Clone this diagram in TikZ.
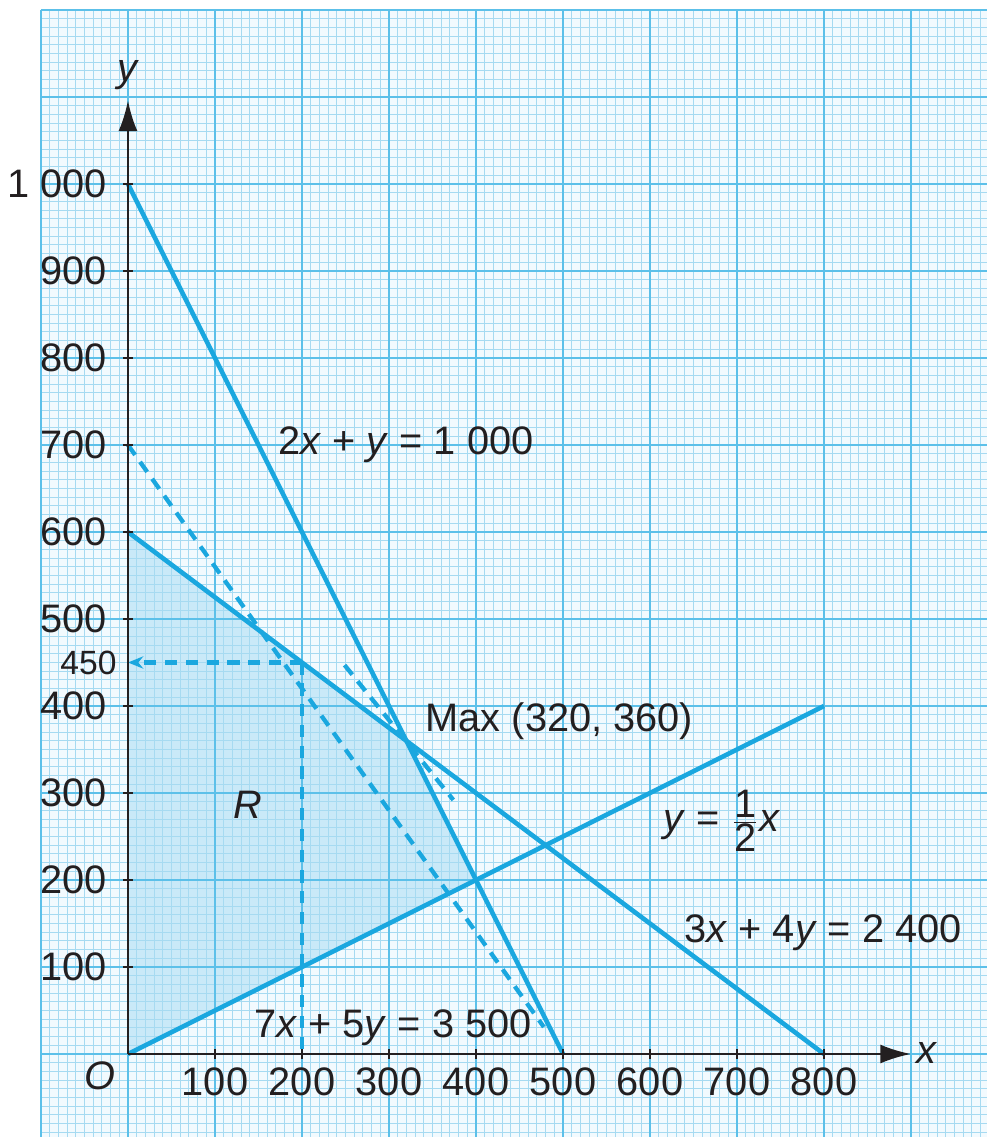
\documentclass[tikz,border=0pt]{standalone}
\usepackage{fontspec}
\setmainfont{Liberation Sans}
\usepackage{tikz}
\usetikzlibrary{arrows.meta}
\definecolor{paper}{HTML}{F2FAFE}
\definecolor{minorgrid}{HTML}{A6DAF1}
\definecolor{majorgrid}{HTML}{5CC0E9}
\definecolor{lpline}{HTML}{1AA7DF}
\definecolor{lpfill}{HTML}{C9E9F8}
\definecolor{ink}{HTML}{231F20}

\begin{document}
\begin{tikzpicture}[
   font=\fontsize{13}{15}\selectfont,
   axis/.style={draw=ink, line width=0.8pt, -{Latex[length=10pt, width=6.2pt]}},
   tickmark/.style={draw=ink, line width=0.8pt},
   bound/.style={draw=lpline, line width=1.5pt},
   guide/.style={draw=lpline, line width=1.4pt, dash pattern=on 4pt off 2.8pt},
   ylab/.style={anchor=east, inner sep=1pt, text=ink},
   xlab/.style={inner sep=1pt, text=ink},
   eqlab/.style={inner sep=1pt, text=ink},
]
  \useasboundingbox (-1.471,-0.954) rectangle (9.874,12.115);
  \fill[white] (-1.471,-0.954) rectangle (9.874,12.115);
  \fill[paper] (-1,-0.954) rectangle (9.874,12);

  \coordinate (O) at (0,0);
  \coordinate (top) at (0,10);
  \coordinate (bot) at (5,0);
  \coordinate (left) at (0,6);
  \coordinate (right) at (8,0);
  \coordinate (half) at (8,4);
  \coordinate (max) at (3.2,3.6);
  \coordinate (corner) at (4,2);
  \coordinate (read) at (2,4.5);
  \coordinate (readx) at (2,0);
  \coordinate (ready) at (0,4.5);
  \coordinate (objA) at (0,7);
  \coordinate (objB) at (4.78,0.31);
  \coordinate (objC) at (2.49,4.47);
  \coordinate (objD) at (3.74,2.92);
  \coordinate (xend) at (9,0);
  \coordinate (yend) at (0,10.96);

  \fill[lpfill] (O) -- (left) -- (max) -- (corner) -- cycle;

  \draw[minorgrid, line width=0.3pt] (-1,-0.954) grid[step=0.1] (9.874,12);
  \draw[majorgrid, line width=0.7pt] (-1,-0.954) grid[step=1] (9.874,12);

  \draw[guide] (objA) -- (objB);
  \draw[guide] (objC) -- (objD);
  \draw[guide, -{Stealth[length=5pt, width=4pt]}] (read) -- (ready);
  \draw[guide] (read) -- (readx);

  \draw[bound] (top) -- (bot);
  \draw[bound] (left) -- (right);
  \draw[bound] (O) -- (half);

  \draw[axis] (O) -- (xend);
  \draw[axis] (O) -- (yend);
  \foreach \k in {1,...,8}
    \draw[tickmark] (\k,-0.06) -- (\k,0.06);
  \foreach \k in {1,...,10}
    \draw[tickmark] (-0.06,\k) -- (0.06,\k);

  \foreach \k/\t in {1/100, 2/200, 3/300, 4/400, 5/500, 6/600, 7/700, 8/800, 9/900, 10/1 000}
    \node[ylab] (y\k) at (-0.2,\k) {\t};
  \node[ylab, font=\fontsize{11}{13}\selectfont] (y450) at (-0.09,4.5) {450};
  \foreach \k in {1,...,8}
    \node[xlab] (x\k) at (\k,-0.32) {\k00};

  \node[xlab] (olab) at (-0.32,-0.25) {\textit{O}};
  \node[xlab] (xname) at (9.18,0.01) {\textit{x}};
  \node[xlab] (yname) at (0,11.25) {\textit{y}};

  \node[eqlab] (eqtop) at (3.195,7.0) {2\textit{x} + \textit{y} = 1 000};
  \node[eqlab, anchor=west] (maxlab) at (3.38,3.82) {Max (320, 360)};
  \node[eqlab] (eqhalf) at (6.83,2.68) {\textit{y} = $\frac{\mbox{1}}{\mbox{2}}$\textit{x}};
  \node[eqlab] (eqleft) at (7.99,1.39) {3\textit{x} + 4\textit{y} = 2 400};
  \node[eqlab] (eqobj) at (3.046,0.299) {7\textit{x} + 5\textit{y} = 3 500};
  \node[eqlab] (rlab) at (1.38,2.86) {\textit{R}};
\end{tikzpicture}
\end{document}
